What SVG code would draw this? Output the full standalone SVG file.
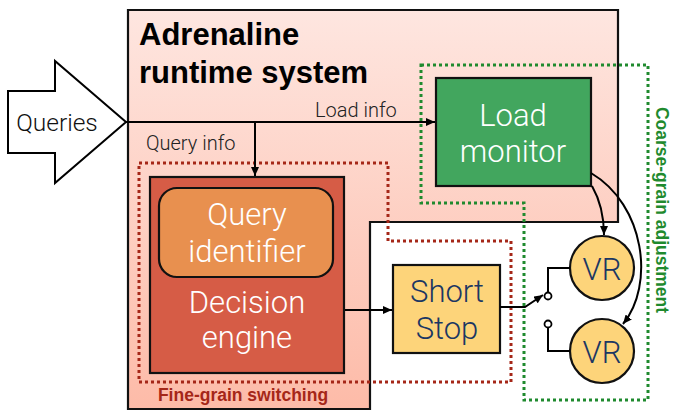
<svg xmlns="http://www.w3.org/2000/svg" width="673" height="414" viewBox="0 0 673 414">
<defs>
<linearGradient id="pinkGrad" x1="0" y1="0" x2="0" y2="1">
<stop offset="0" stop-color="#fee6e0"/>
<stop offset="1" stop-color="#fdbba8"/>
</linearGradient>
<marker id="arr" markerUnits="userSpaceOnUse" markerWidth="10" markerHeight="8" refX="9" refY="4" orient="auto">
<path d="M0,0 L9,4 L0,8 z" fill="#000"/>
</marker>
<style>
.box{stroke:#111;stroke-width:2.2}
.light{font-family:Roboto,"Liberation Sans",sans-serif;font-weight:300}
.w{fill:#fff;font-size:31px;text-anchor:middle}
.n{fill:#1b3763;font-size:31px;text-anchor:middle}
.lbl{fill:#222;font-size:20px}
.line{fill:none;stroke:#000;stroke-width:2}
.dotr{fill:none;stroke:#a52718;stroke-width:3;stroke-dasharray:3 3}
.dotg{fill:none;stroke:#1f8a2e;stroke-width:3;stroke-dasharray:3 3}
.bold{font-family:"Liberation Sans",Arial,sans-serif;font-weight:bold}
</style>
</defs>

<g id="runtime-system">
<polygon points="128,10 618,10 618,222 370,222 370,409 128,409" fill="url(#pinkGrad)" class="box" stroke-width="2.5"/>
<text class="bold" x="139" y="45" font-size="31" fill="#000">Adrenaline</text>
<text class="bold" x="139" y="83" font-size="31" fill="#000">runtime system</text>
</g>

<g id="queries">
<polygon points="8,91 55,91 55,61 126,122 55,183 55,153 8,153" fill="#fff" stroke="#000" stroke-width="2"/>
<text class="light" x="57" y="131" font-size="24.5" text-anchor="middle" fill="#111">Queries</text>
</g>

<g id="fine-grain-region">
<polygon points="139,163 388,163 388,241 511,241 511,382 139,382" class="dotr"/>
<text class="bold" x="243" y="401" font-size="17.5" text-anchor="middle" fill="#a52718">Fine-grain switching</text>
</g>

<g id="coarse-grain-region">
<polygon points="421,65 648,65 648,400 524,400 524,203 421,203" class="dotg"/>
<text class="bold" transform="translate(656,210) rotate(90)" font-size="17.5" text-anchor="middle" fill="#1f8a2e">Coarse-grain adjustment</text>
</g>

<g id="decision-engine">
<rect x="150" y="177" width="194" height="196" fill="#d65c46" class="box"/>
<text class="light w" x="247" y="313">Decision</text>
<text class="light w" x="247" y="348">engine</text>
</g>

<g id="query-identifier">
<rect x="159" y="188" width="174" height="89" rx="18" fill="#e8904f" class="box"/>
<text class="light w" x="247" y="225">Query</text>
<text class="light w" x="247" y="262">identifier</text>
</g>

<g id="load-monitor">
<rect x="436" y="78" width="155" height="108" fill="#42a65e" class="box"/>
<text class="light w" x="513" y="126">Load</text>
<text class="light w" x="513" y="162">monitor</text>
</g>

<g id="short-stop">
<rect x="393" y="265" width="107" height="88" fill="#fdd47a" class="box"/>
<text class="light n" x="447" y="302">Short</text>
<text class="light n" x="447" y="339">Stop</text>
</g>

<g id="vr1">
<circle cx="602" cy="268" r="32" fill="#fdd47a" class="box"/>
<text class="light n" x="602" y="280">VR</text>
</g>

<g id="vr2">
<circle cx="602" cy="351" r="32" fill="#fdd47a" class="box"/>
<text class="light n" x="602" y="363">VR</text>
</g>

<g id="connectors">
<path class="line" d="M126,122 H435" marker-end="url(#arr)"/>
<text class="light lbl" x="315" y="117">Load info</text>
<path class="line" d="M255,122 V176" marker-end="url(#arr)"/>
<text class="light lbl" x="146" y="150">Query info</text>
<path class="line" d="M345,310 H392" marker-end="url(#arr)"/>
<path class="line" d="M500,307 H525 L543,295" marker-end="url(#arr)"/>
<circle cx="548" cy="296" r="3.5" fill="#fff" stroke="#000" stroke-width="1.8"/>
<circle cx="548" cy="324" r="3.5" fill="#fff" stroke="#000" stroke-width="1.8"/>
<path class="line" d="M548,292.5 V268 H570"/>
<path class="line" d="M548,327.5 V351 H570"/>
<path class="line" d="M592,186 C600,200 604,215 604,235" marker-end="url(#arr)"/>
<path class="line" d="M591,173 C645,205 655,285 623,324" marker-end="url(#arr)"/>
</g>
</svg>
